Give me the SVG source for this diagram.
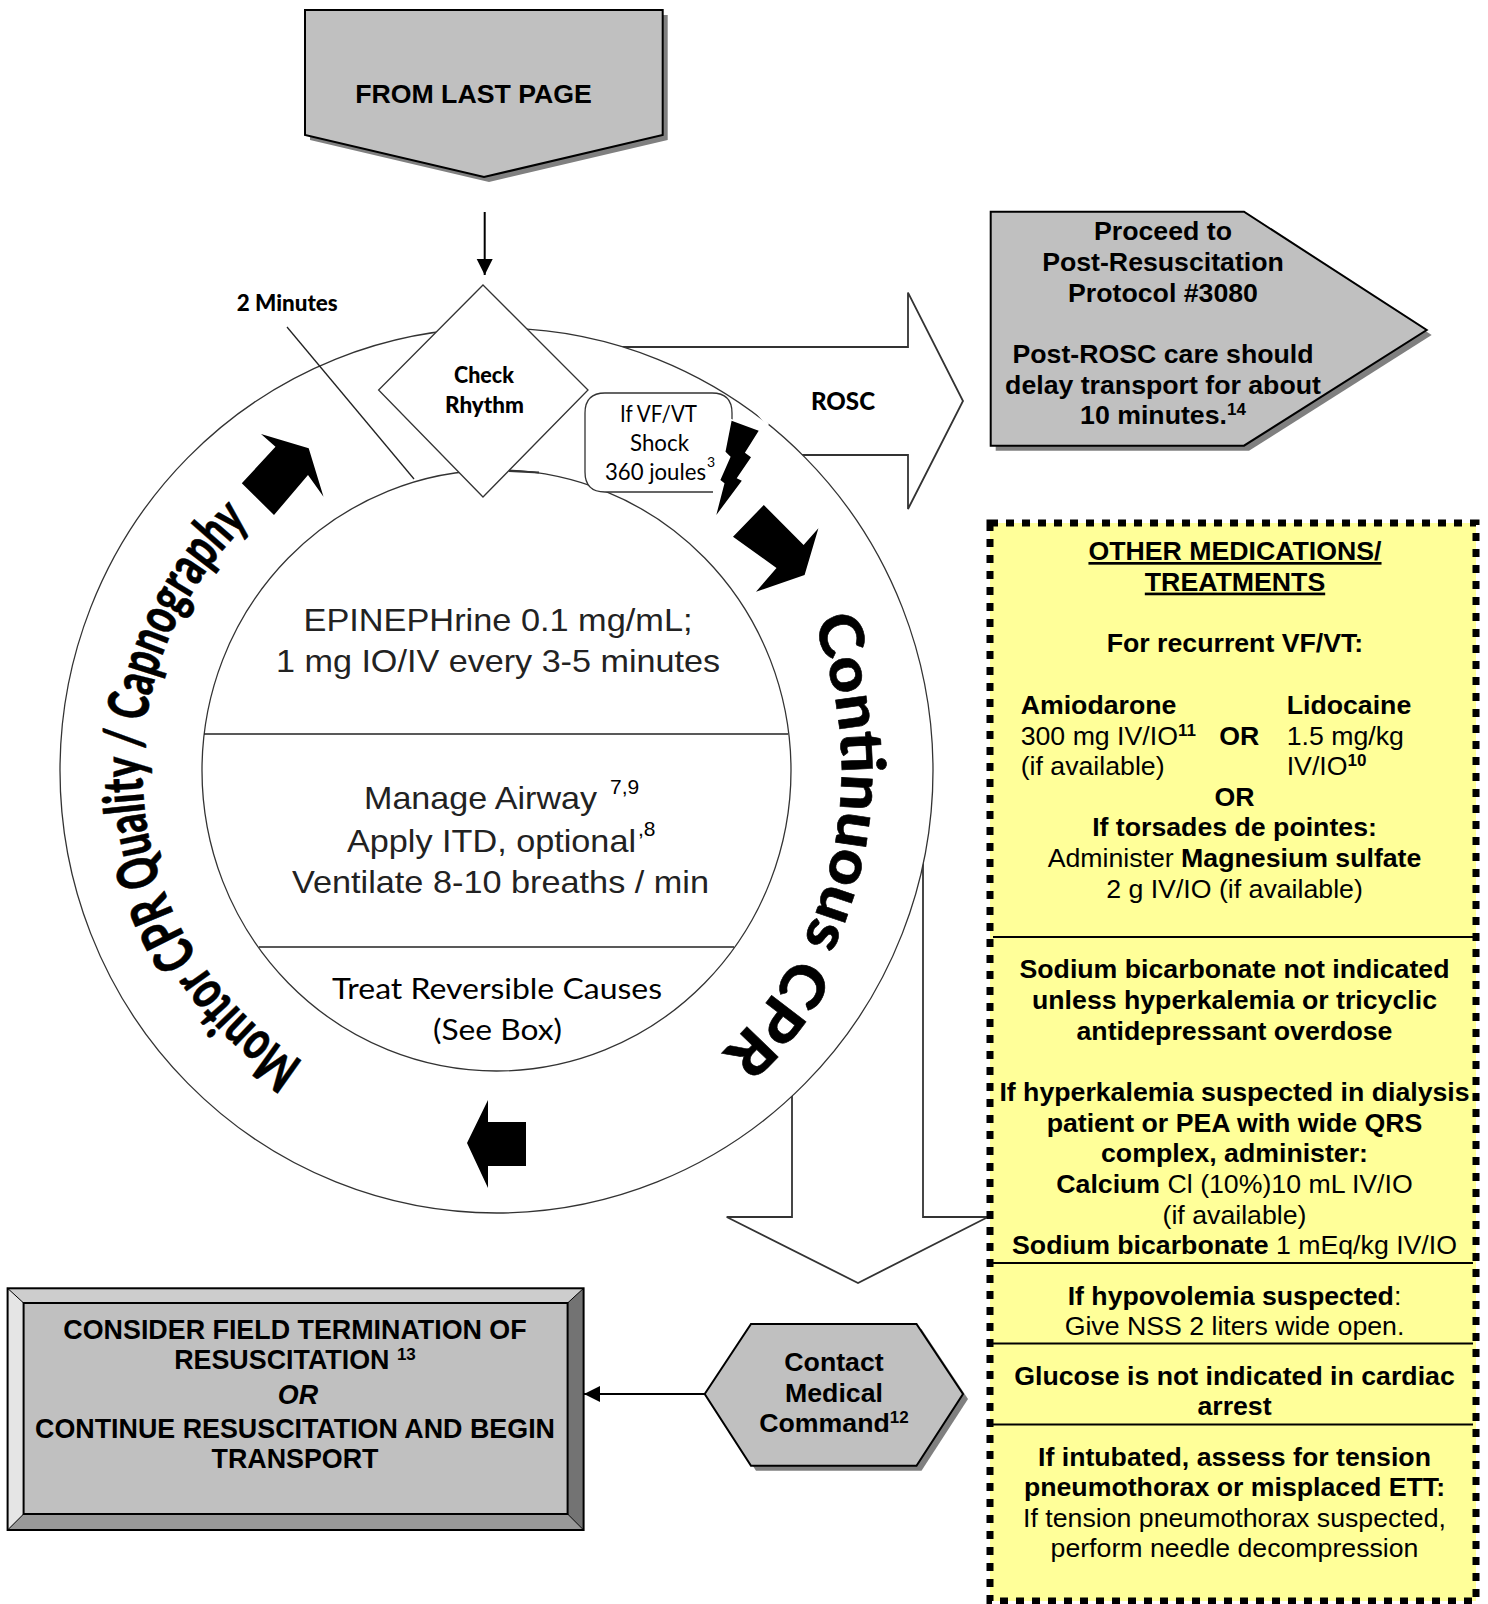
<svg xmlns="http://www.w3.org/2000/svg" xmlns:xlink="http://www.w3.org/1999/xlink" width="1488" height="1604" viewBox="0 0 1488 1604">
<style>
text{font-family:"Liberation Sans",Arial,sans-serif;fill:#000}
.b{font-size:26.7px;font-weight:700;text-anchor:middle}
.l{font-size:26.7px;text-anchor:middle}
.s{font-size:26.7px}
.bo{font-weight:700}
.sup{font-size:17px;font-weight:700}
.box{fill:#c0c0c0;stroke:#000;stroke-width:2;stroke-linejoin:miter}
.shadow{fill:#808080}
.ring{fill:#fff;stroke:#333;stroke-width:1.3}
.thin{fill:none;stroke:#222;stroke-width:1.3}
.block{fill:#fff;stroke:#333;stroke-width:1.8}
.circ{font-size:32px;text-anchor:middle;fill:#222}
.cal{font-family:Lato,"Liberation Sans",sans-serif}
.blk{font-weight:900}
.curve{font-family:Lato,"Liberation Sans",sans-serif;font-weight:900;fill:#000;stroke:#000;stroke-width:.6}
.sep{stroke:#000;stroke-width:2}
.wide{font-size:26.85px}
</style>
<defs>
<marker id="tri" markerUnits="userSpaceOnUse" markerWidth="17" markerHeight="17" refX="16" refY="8" orient="auto"><path d="M0 0L16 8L0 16Z" fill="#000"/></marker>
<path id="cprPath" d="M 812.7 621.7 A 345 372 0 0 1 565 1135"/>
<path id="monPath" d="M 303.7 1061.5 A 354 347 0 0 1 375.4 444.4"/>
</defs>
<rect width="1488" height="1604" fill="#fff"/>
<g id="connectors">
<line x1="484.7" y1="212" x2="484.7" y2="275" stroke="#000" stroke-width="2" marker-end="url(#tri)"/>
<line x1="704.7" y1="1394" x2="584" y2="1394" stroke="#000" stroke-width="2" marker-end="url(#tri)"/>
<polygon class="block" points="610,347 908,347 908,292.6 963,401 908,509 908,455 790,455"/>
<polygon class="block" points="792,1080 792,1217 726.7,1217 858,1283 988,1217 923,1217 923,850"/>
</g>
<g id="cycle">
<ellipse class="ring" cx="496.5" cy="770.5" rx="436.5" ry="442.5"/>
<line x1="758" y1="413" x2="768" y2="425" stroke="#fff" stroke-width="3"/>
<line class="thin" x1="287" y1="327" x2="414" y2="479"/>
<ellipse class="ring" cx="496.5" cy="770.5" rx="294.5" ry="300.5"/>
<line x1="509" y1="471" x2="539" y2="472.5" stroke="#333" stroke-width="2"/>
<line class="thin" x1="204" y1="734" x2="788" y2="734"/>
<line class="thin" x1="259" y1="947" x2="734" y2="947"/>
<text class="circ" x="498" y="630.7" textLength="389" lengthAdjust="spacingAndGlyphs">EPINEPHrine 0.1 mg/mL;</text>
<text class="circ" x="498" y="671.7" textLength="444" lengthAdjust="spacingAndGlyphs">1 mg IO/IV every 3-5 minutes</text>
<text class="circ" x="480.5" y="809.3" textLength="233" lengthAdjust="spacingAndGlyphs">Manage Airway</text>
<text x="610" y="794" font-size="21" fill="#222">7,9</text>
<text class="circ" x="491.5" y="851.7" textLength="289" lengthAdjust="spacingAndGlyphs">Apply ITD, optional</text>
<text x="638" y="836" font-size="21" fill="#222">,8</text>
<text class="circ" x="500.5" y="892.7" textLength="417" lengthAdjust="spacingAndGlyphs">Ventilate 8-10 breaths / min</text>
<text class="cal" x="497" y="999" font-size="29" text-anchor="middle" fill="#222" textLength="330" lengthAdjust="spacingAndGlyphs">Treat Reversible Causes</text>
<text class="cal" x="497.5" y="1040" font-size="29" text-anchor="middle" fill="#222" textLength="129" lengthAdjust="spacingAndGlyphs">(See Box)</text>
<text class="curve" font-size="60"><textPath xlink:href="#cprPath" href="#cprPath" textLength="468" lengthAdjust="spacingAndGlyphs">Continuous CPR</textPath></text>
<text class="curve" font-size="56"><textPath xlink:href="#monPath" href="#monPath" textLength="625" lengthAdjust="spacingAndGlyphs">Monitor CPR Quality / Capnography</textPath></text>
<polygon points="763.8,505 803.6,545 818.4,528.3 804.6,575 756,591.7 776.5,568 733,536.7" fill="#000"/>
<polygon points="261,434 308.7,448.3 323.5,496.7 308,475 274,515 241.8,483.3 275.5,446.7" fill="#000"/>
<polygon points="467,1143 488,1100 488,1122 526,1122 526,1166 488,1166 488,1188" fill="#000"/>
<text class="cal blk" x="236.7" y="310.7" font-size="22" textLength="101" lengthAdjust="spacingAndGlyphs" fill="#111">2 Minutes</text>
</g>
<g id="rosc-label"><text class="cal blk" x="843" y="410" font-size="25" text-anchor="middle" fill="#222" textLength="64" lengthAdjust="spacingAndGlyphs">ROSC</text></g>
<g id="check-rhythm">
<polygon points="483,285 588,390 483,497 378.6,390" fill="#fff" stroke="#333" stroke-width="1.3"/>
<text class="cal blk" x="484" y="383" font-size="22" text-anchor="middle" textLength="60" lengthAdjust="spacingAndGlyphs">Check</text>
<text class="cal blk" x="484.5" y="413" font-size="22" text-anchor="middle" textLength="79" lengthAdjust="spacingAndGlyphs">Rhythm</text>
</g>
<g id="shock">
<path d="M732 430V413Q732 393 712 393H605Q585 393 585 413V472Q585 492 605 492H713" fill="#fff" stroke="#333" stroke-width="1.3"/>
<text class="cal" x="658.5" y="421.7" font-size="24" text-anchor="middle" fill="#444" textLength="77" lengthAdjust="spacingAndGlyphs">If VF/VT</text>
<text class="cal" x="659.5" y="450.7" font-size="24" text-anchor="middle" fill="#444" textLength="59" lengthAdjust="spacingAndGlyphs">Shock</text>
<text class="cal" x="655.5" y="480" font-size="24" text-anchor="middle" fill="#444" textLength="101" lengthAdjust="spacingAndGlyphs">360 joules</text>
<text class="cal" x="707" y="467" font-size="14" fill="#444">3</text>
<polygon points="731.6,420.7 758.7,430.7 744.9,452.7 751,457.3 736.7,478.3 741.8,480.7 716.3,515 724.5,483.3 720.4,480 730.6,456.7 725.5,451.7" fill="#000" stroke="#fff" stroke-width="3" paint-order="stroke"/>
</g>
<g id="from-last-page">
<polygon class="shadow" points="310,15 667.7,15 667.7,140 489,182 310,140"/>
<polygon class="box" points="305,10 662.7,10 662.7,135 484,177 305,135"/>
<text class="b" x="473.5" y="103">FROM LAST PAGE</text>
</g>
<g id="post-resus">
<polygon class="shadow" points="995.7,216.7 1249,216.7 1431.7,335 1249,450.7 995.7,450.7"/>
<polygon class="box" points="990.7,211.7 1244,211.7 1426.7,330 1244,445.7 990.7,445.7"/>
<text class="b" x="1163" y="240">Proceed to</text>
<text class="b" x="1163" y="270.7">Post-Resuscitation</text>
<text class="b" x="1163" y="301.7">Protocol #3080</text>
<text class="b" x="1163" y="362.5">Post-ROSC care should</text>
<text class="b" x="1163" y="394">delay transport for about</text>
<text class="b" x="1163" y="424">10 minutes.<tspan class="sup" dy="-9">14</tspan></text>
</g>
<g id="other-medications">
<rect x="990" y="523" width="486" height="1078" fill="#ff9"/>
<rect x="990" y="523" width="486" height="1078" fill="none" stroke="#000" stroke-width="7" stroke-dasharray="8 8"/>
<line class="sep" x1="993" y1="937" x2="1473" y2="937"/>
<line class="sep" x1="993" y1="1263" x2="1473" y2="1263"/>
<line class="sep" x1="993" y1="1343.6" x2="1473" y2="1343.6"/>
<line class="sep" x1="993" y1="1424.6" x2="1473" y2="1424.6"/>
<text class="b" x="1235" y="560" text-decoration="underline">OTHER MEDICATIONS/</text>
<text class="b" x="1235" y="590.6" text-decoration="underline">TREATMENTS</text>
<text class="b" x="1235" y="652">For recurrent VF/VT:</text>
<text class="s bo" x="1020.7" y="714">Amiodarone</text>
<text class="s" x="1020.7" y="744.5">300 mg IV/IO<tspan class="sup" dy="-9">11</tspan></text>
<text class="s bo" x="1219.3" y="744.5">OR</text>
<text class="s" x="1020.7" y="775">(if available)</text>
<text class="s bo" x="1286.7" y="714">Lidocaine</text>
<text class="s" x="1286.7" y="744.5">1.5 mg/kg</text>
<text class="s" x="1286.7" y="775">IV/IO<tspan class="sup" dy="-9">10</tspan></text>
<text class="b" x="1234.5" y="806">OR</text>
<text class="b" x="1234.5" y="836">If torsades de pointes:</text>
<text class="l" x="1234.5" y="866.5">Administer <tspan class="bo">Magnesium sulfate</tspan></text>
<text class="l" x="1234.5" y="897.5">2 g IV/IO (if available)</text>
<text class="b" x="1234.5" y="977.6">Sodium bicarbonate not indicated</text>
<text class="b" x="1234.5" y="1009">unless hyperkalemia or tricyclic</text>
<text class="b" x="1234.5" y="1039.5">antidepressant overdose</text>
<text class="b" x="1234.5" y="1100.5">If hyperkalemia suspected in dialysis</text>
<text class="b" x="1234.5" y="1132">patient or PEA with wide QRS</text>
<text class="b" x="1234.5" y="1162">complex, administer:</text>
<text class="l" x="1234.5" y="1192.5"><tspan class="bo">Calcium</tspan> Cl (10%)10 mL IV/IO</text>
<text class="l" x="1234.5" y="1224">(if available)</text>
<text class="l" x="1234.5" y="1253.8"><tspan class="bo">Sodium bicarbonate</tspan> 1 mEq/kg IV/IO</text>
<text class="l" x="1234.5" y="1305"><tspan class="bo">If hypovolemia suspected</tspan>:</text>
<text class="l" x="1234.5" y="1334.6">Give NSS 2 liters wide open.</text>
<text class="b" x="1234.5" y="1384.6">Glucose is not indicated in cardiac</text>
<text class="b" x="1234.5" y="1415.2">arrest</text>
<text class="b" x="1234.5" y="1466">If intubated, assess for tension</text>
<text class="b" x="1234.5" y="1495.6">pneumothorax or misplaced ETT:</text>
<text class="l" x="1234.5" y="1527">If tension pneumothorax suspected,</text>
<text class="l" x="1234.5" y="1556.8">perform needle decompression</text>
</g>
<g id="field-termination">
<rect x="7.6" y="1288.3" width="576" height="241.7" fill="#c0c0c0"/>
<polygon points="7.6,1288.3 583.6,1288.3 567.6,1303 23.6,1303" fill="#cdcdcd"/>
<polygon points="7.6,1288.3 23.6,1303 23.6,1514 7.6,1530" fill="#e5e5e5"/>
<polygon points="583.6,1288.3 567.6,1303 567.6,1514 583.6,1530" fill="#737373"/>
<polygon points="7.6,1530 23.6,1514 567.6,1514 583.6,1530" fill="#999"/>
<rect x="7.6" y="1288.3" width="576" height="241.7" fill="none" stroke="#000" stroke-width="2"/>
<rect x="23.6" y="1303" width="544" height="211" fill="none" stroke="#000" stroke-width="2"/>
<path d="M7.6 1288.3L23.6 1303M583.6 1288.3L567.6 1303M7.6 1530L23.6 1514M583.6 1530L567.6 1514" stroke="#000" stroke-width="1"/>
<text class="b wide" x="295" y="1338.6">CONSIDER FIELD TERMINATION OF</text>
<text class="b wide" x="295" y="1369.2">RESUSCITATION <tspan class="sup" dy="-9">13</tspan></text>
<text class="b wide" x="298" y="1404" font-style="italic">OR</text>
<text class="b wide" x="295" y="1437.7">CONTINUE RESUSCITATION AND BEGIN</text>
<text class="b wide" x="295" y="1468.3">TRANSPORT</text>
</g>
<g id="contact-medical-command">
<polygon class="shadow" points="709.7,1399 756,1329 921.5,1329 968,1399 921.5,1470.7 756,1470.7"/>
<polygon class="box" points="704.7,1394 751,1324 916.5,1324 963,1394 916.5,1465.7 751,1465.7"/>
<text class="b" x="834" y="1371">Contact</text>
<text class="b" x="834" y="1401.6">Medical</text>
<text class="b" x="834" y="1432">Command<tspan class="sup" dy="-9">12</tspan></text>
</g>
</svg>
